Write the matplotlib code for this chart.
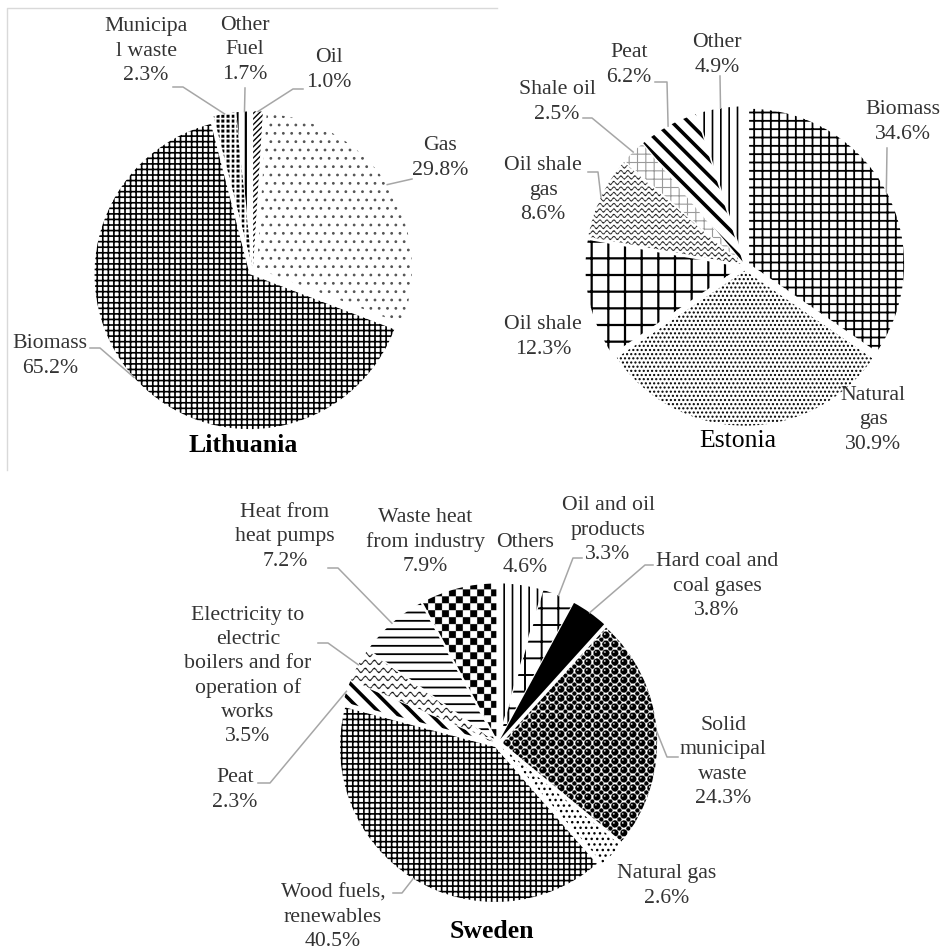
import numpy as np
import matplotlib
matplotlib.use("Agg")
import matplotlib.pyplot as plt
from matplotlib.lines import Line2D

plt.rcParams["font.family"] = ["Liberation Serif", "DejaVu Serif"]
plt.rcParams["hatch.linewidth"] = 1.0

# ---- data ----
lt_labels = ["Oil", "Gas", "Biomass", "Municipa\nl waste", "Other\nFuel"]
lt_values = [1.0, 29.8, 65.2, 2.3, 1.7]

ee_labels = ["Biomass", "Natural\ngas", "Oil shale", "Oil shale\ngas", "Shale oil", "Peat", "Other"]
ee_values = [34.6, 30.9, 12.3, 8.6, 2.5, 6.2, 4.9]

se_labels = ["Others", "Oil and oil\nproducts", "Hard coal and\ncoal gases",
             "Solid\nmunicipal\nwaste", "Natural gas", "Wood fuels,\nrenewables", "Peat",
             "Electricity to\nelectric\nboilers and for\noperation of\nworks",
             "Heat from\nheat pumps", "Waste heat\nfrom industry"]
se_values = [4.6, 3.3, 3.8, 24.3, 2.6, 40.5, 2.3, 3.5, 7.2, 7.9]

# ---- styles (hatch, face, hatch colour, texture, hatch lw) ----
lt_styles = [
    dict(hatch="//////", lw=1.0),
    dict(hatch="..", lw=0.8, hc="#555555"),
    dict(hatch="+++", lw=1.2),
    dict(tex="blobs"),
    dict(hatch="||", lw=1.6),
]
ee_styles = [
    dict(hatch="++", lw=1.3),
    dict(hatch="....", lw=1.0),
    dict(hatch="+", lw=1.6),
    dict(tex="wave_small"),
    dict(hatch="++", lw=0.8, hc="#9a9a9a"),
    dict(hatch="\\\\", lw=2.6),
    dict(hatch="||", lw=1.2),
]
se_styles = [
    dict(hatch="||", lw=1.2),
    dict(hatch="+", lw=1.4),
    dict(face="black"),
    dict(tex="balls"),
    dict(hatch="...", lw=1.0),
    dict(hatch="+++", lw=1.2),
    dict(hatch="\\\\", lw=2.6),
    dict(tex="wave"),
    dict(hatch="--", lw=1.3),
    dict(tex="checker"),
]

# ---- label layout in pixels: text centre, leader start/elbow ----
lt_layout = [((329, 70), [(303, 89), (293, 89)]),
             ((440, 158), [(412, 179)]),
             ((50, 356), [(90, 348), (100, 348)]),
             ((146, 51), [(173, 87), (183, 87)]),
             ((245, 50), [(245, 88)])]
ee_layout = [((903, 122), [(887, 148)]),
             ((873, 420), None),
             ((543, 337), None),
             ((543, 190), [(588, 172), (598, 172)]),
             ((557, 102), [(583, 118), (592, 118)]),
             ((629, 65), [(655, 82), (667, 82)]),
             ((717, 55), [(720, 76)])]
se_layout = [((525, 555), None),
             ((608, 530), [(582, 558), (573, 558)]),
             ((717, 586), [(653, 565), (645, 565)]),
             ((723, 762), [(678, 757), (667, 757)]),
             ((667, 886), None),
             ((333, 917), [(393, 893), (402, 893)]),
             ((235, 790), [(258, 783), (270, 783)]),
             ((248, 676), [(318, 643), (328, 643)]),
             ((285, 537), [(328, 568), (338, 568)]),
             ((425, 542), None)]

W, H = 944, 951
fig = plt.figure(figsize=(W / 100, H / 100), dpi=100)


def texture(kind, R, ext=1.4, n=1000):
    t = np.linspace(-ext, ext, n)
    X, Y = np.meshgrid(t, t)
    px = 1.0 / R
    if kind == "checker":
        c = 7 * px
        img = (np.floor(X / c) + np.floor(Y / c)) % 2
    elif kind == "wave":
        d = (Y - 2.0 * px * np.sin(2 * np.pi * X / (9 * px))) % (8 * px)
        img = (d > 1.4 * px).astype(float)
    elif kind == "wave_small":
        d = (Y - 1.5 * px * np.sin(2 * np.pi * X / (7 * px))) % (5.5 * px)
        img = (d > 1.2 * px).astype(float)
    elif kind == "balls":
        s = 9 * px
        gx = X / s
        gy = Y / s
        d1 = np.hypot(gx - np.round(gx), gy - np.round(gy))
        d2 = np.hypot(gx - 0.5 - np.round(gx - 0.5), gy - 0.5 - np.round(gy - 0.5))
        img = np.ones_like(X)
        img[d1 < 0.4] = 0.0
        img[d2 < 0.24] = 0.0
        hl = np.hypot(gx - np.round(gx) + 0.12, gy - np.round(gy) - 0.12)
        img[hl < 0.09] = 1.0
    else:  # blobs
        s = 5 * px
        gx = X / s
        gy = Y / s
        d = np.maximum(np.abs(gx - np.round(gx)), np.abs(gy - np.round(gy)))
        img = (d > 0.3).astype(float)
    return img, ext


def draw_pie(cx, cy, R, box, values, labels, styles, layout, title, tpos, bold):
    x0, y0, x1, y1 = box
    ax = fig.add_axes([x0 / W, 1 - y1 / H, (x1 - x0) / W, (y1 - y0) / H])
    wedges, _ = ax.pie(values, startangle=90, counterclock=False,
                       explode=[0.03] * len(values),
                       wedgeprops=dict(linewidth=0))
    for w, st in zip(wedges, styles):
        w.set_facecolor(st.get("face", "white"))
        w.set_edgecolor(st.get("hc", "black"))
        w.set_linewidth(0)
        if "hatch" in st:
            w.set_hatch(st["hatch"])
            try:
                w.set_hatch_linewidth(st.get("lw", 1.0))
            except AttributeError:
                pass
        if "tex" in st:
            img, ext = texture(st["tex"], R)
            ax.imshow(img, extent=(-ext, ext, -ext, ext), origin="lower",
                      cmap="gray", vmin=0, vmax=1, interpolation="antialiased",
                      zorder=w.get_zorder() + 0.1, clip_path=w)
    ax.set_xlim((x0 - cx) / R, (x1 - cx) / R)
    ax.set_ylim((cy - y1) / R, (cy - y0) / R)
    ax.set_aspect("auto")
    ax.axis("off")

    for w, lab, v, lay in zip(wedges, labels, values, layout):
        (tx, ty), lead = lay
        fig.text(tx / W, 1 - ty / H, "%s\n%.1f%%" % (lab, v), ha="center", va="center",
                 fontsize=15.7, linespacing=1.36, color="#333333")
        if lead:
            th = np.deg2rad((w.theta1 + w.theta2) / 2)
            ex = cx + (w.center[0] + w.r * np.cos(th)) * R
            ey = cy - (w.center[1] + w.r * np.sin(th)) * R
            pts = list(lead) + [(ex, ey)]
            fig.add_artist(Line2D([p[0] / W for p in pts], [1 - p[1] / H for p in pts],
                                  transform=fig.transFigure, color="#a6a6a6", lw=1.1))
    fig.text(tpos[0] / W, 1 - tpos[1] / H, title, ha="center", va="center",
             fontsize=18.5, fontweight="bold" if bold else "normal", color="black")


draw_pie(253, 271, 155, (0, 0, 472, 472), lt_values, lt_labels, lt_styles, lt_layout,
         "Lithuania", (243, 445), True)
draw_pie(745, 266, 155, (472, 0, 944, 472), ee_values, ee_labels, ee_styles, ee_layout,
         "Estonia", (738, 441), False)
draw_pie(497.5, 743, 155, (0, 472, 944, 951), se_values, se_labels, se_styles, se_layout,
         "Sweden", (492, 932), True)

# light frame around the first panel
fig.add_artist(Line2D([7 / W, 7 / W, 497 / W], [1 - 470 / H, 1 - 8 / H, 1 - 8 / H],
                      transform=fig.transFigure, color="#d9d9d9", lw=1.0))

fig.savefig("out.png", dpi=100)
